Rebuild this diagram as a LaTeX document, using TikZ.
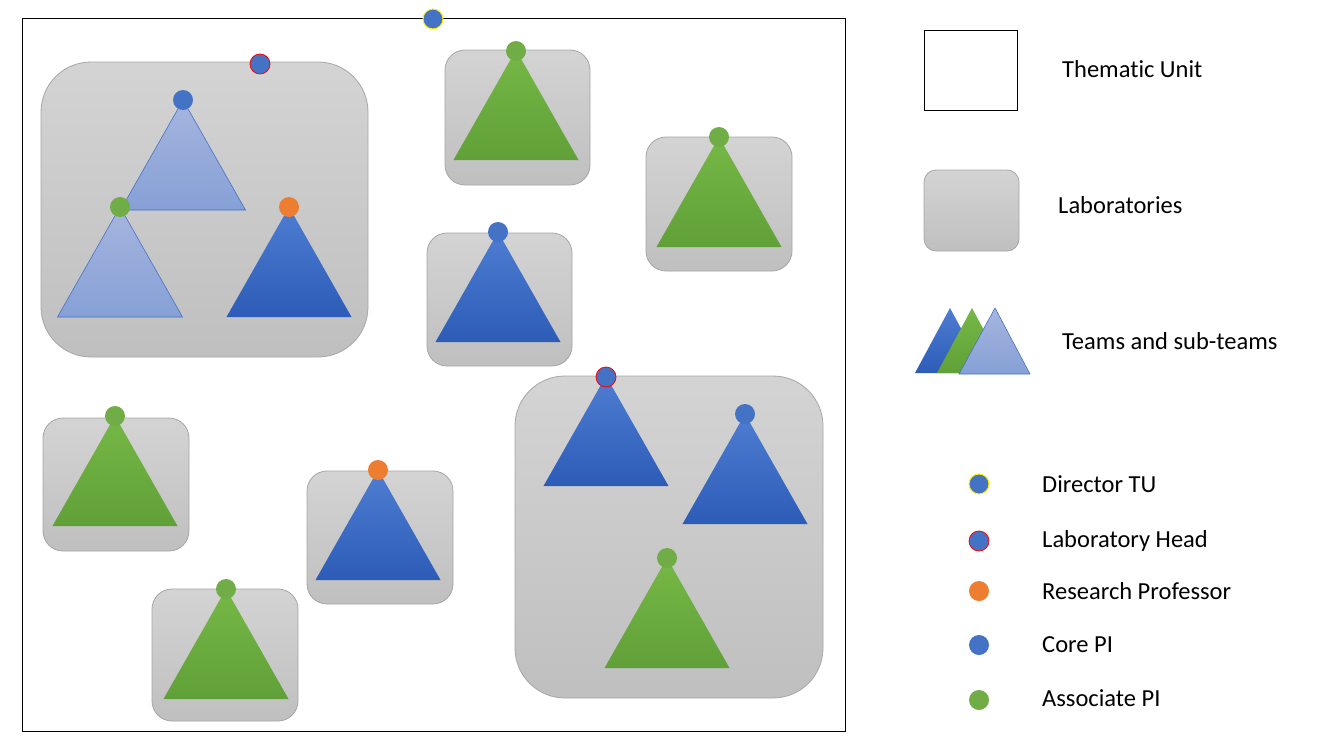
\documentclass[tikz,border=0pt]{standalone}
\usepackage{fontspec}
\setmainfont[Ligatures={NoCommon}]{Carlito}
\begin{document}
\begin{tikzpicture}[x=1pt,y=-1pt,
  lab/.style={draw=black!35, line width=0.8pt, top color=black!17, bottom color=black!25},
  tblue/.style={top color={rgb,255:red,78;green,125;blue,210}, bottom color={rgb,255:red,45;green,92;blue,184}},
  tgreen/.style={top color={rgb,255:red,118;green,184;blue,70}, bottom color={rgb,255:red,96;green,160;blue,56}},
  tlight/.style={draw={rgb,255:red,68;green,114;blue,196}, line width=0.6pt, top color={rgb,255:red,166;green,181;blue,222}, bottom color={rgb,255:red,134;green,160;blue,214}},
  dot/.style={circle, minimum size=20pt, inner sep=0pt},
  cblue/.style={dot, fill={rgb,255:red,68;green,114;blue,196}},
  cgreen/.style={dot, fill={rgb,255:red,112;green,173;blue,71}},
  corange/.style={dot, fill={rgb,255:red,237;green,125;blue,49}},
  cdir/.style={cblue, draw=yellow, line width=1pt},
  chead/.style={cblue, draw=red, line width=0.8pt},
  legtext/.style={anchor=west, font=\fontsize{24.5}{29}\selectfont, inner sep=0pt}
]
\newcommand{\teamtri}[3]{\shade[#3] (#1,#2) -- ++(62.5,110) -- ++(-125,0) -- cycle;}
\useasboundingbox (0,0) rectangle (1333,750);
\fill[white] (0,0) rectangle (1333,750);
% thematic unit
\draw[line width=0.8pt] (22,18) rectangle (845,731);
% laboratories
\draw[lab, rounded corners=50pt] (41,62) rectangle (368,357);
\draw[lab, rounded corners=20pt] (445,50) rectangle (590,185);
\draw[lab, rounded corners=20pt] (646,137) rectangle (792,271);
\draw[lab, rounded corners=20pt] (427,233) rectangle (572,366);
\draw[lab, rounded corners=50pt] (515,376) rectangle (823,698);
\draw[lab, rounded corners=20pt] (43,418) rectangle (189,551);
\draw[lab, rounded corners=20pt] (307,471) rectangle (453,604);
\draw[lab, rounded corners=20pt] (152,589) rectangle (298,721);
% teams
\teamtri{183}{100}{tlight}
\teamtri{120}{207}{tlight}
\teamtri{289}{207}{tblue}
\teamtri{516}{50}{tgreen}
\teamtri{719}{137}{tgreen}
\teamtri{498}{232}{tblue}
\teamtri{606}{376}{tblue}
\teamtri{745}{414}{tblue}
\teamtri{667}{558}{tgreen}
\teamtri{115}{416}{tgreen}
\teamtri{378}{470}{tblue}
\teamtri{226}{589}{tgreen}
% people
\node[cdir] (dir) at (433,19) {};
\node[chead] (h1) at (260,64) {};
\node[cblue] (p1) at (183,100) {};
\node[cgreen] (p2) at (120,207) {};
\node[corange] (p3) at (289,207) {};
\node[cgreen] (p4) at (516,51) {};
\node[cgreen] (p5) at (719,137) {};
\node[cblue] (p6) at (498,232) {};
\node[chead] (h2) at (606,377) {};
\node[cblue] (p7) at (745,414) {};
\node[cgreen] (p8) at (667,558) {};
\node[cgreen] (p9) at (115,416) {};
\node[corange] (p10) at (378,470) {};
\node[cgreen] (p11) at (226,589) {};
% legend
\draw[line width=0.8pt] (924,30) rectangle (1017,110);
\node[legtext] (lt1) at (1062,69) {Thematic Unit};
\draw[lab, rounded corners=12pt] (924,170) rectangle (1019,251);
\node[legtext] (lt2) at (1058,205) {Laboratories};
\shade[tblue] (950,308) -- (985,373) -- (915,373) -- cycle;
\shade[tgreen] (972,308) -- (1007,373) -- (937,373) -- cycle;
\shade[tlight] (995,308) -- (1030,374) -- (959,374) -- cycle;
\node[legtext] (lt3) at (1062,341) {Teams and sub-teams};
\node[cdir] (l1) at (979,484) {};
\node[chead] (l2) at (979,541) {};
\node[corange] (l3) at (979,591) {};
\node[cblue] (l4) at (979,645) {};
\node[cgreen] (l5) at (979,700) {};
\node[legtext] (t1) at (1042,484) {Director TU};
\node[legtext] (t2) at (1042,541) {Laboratory Head};
\node[legtext] (t3) at (1042,591) {Research Professor};
\node[legtext] (t4) at (1042,645) {Core PI};
\node[legtext] (t5) at (1042,698) {Associate PI};
\end{tikzpicture}
\end{document}
